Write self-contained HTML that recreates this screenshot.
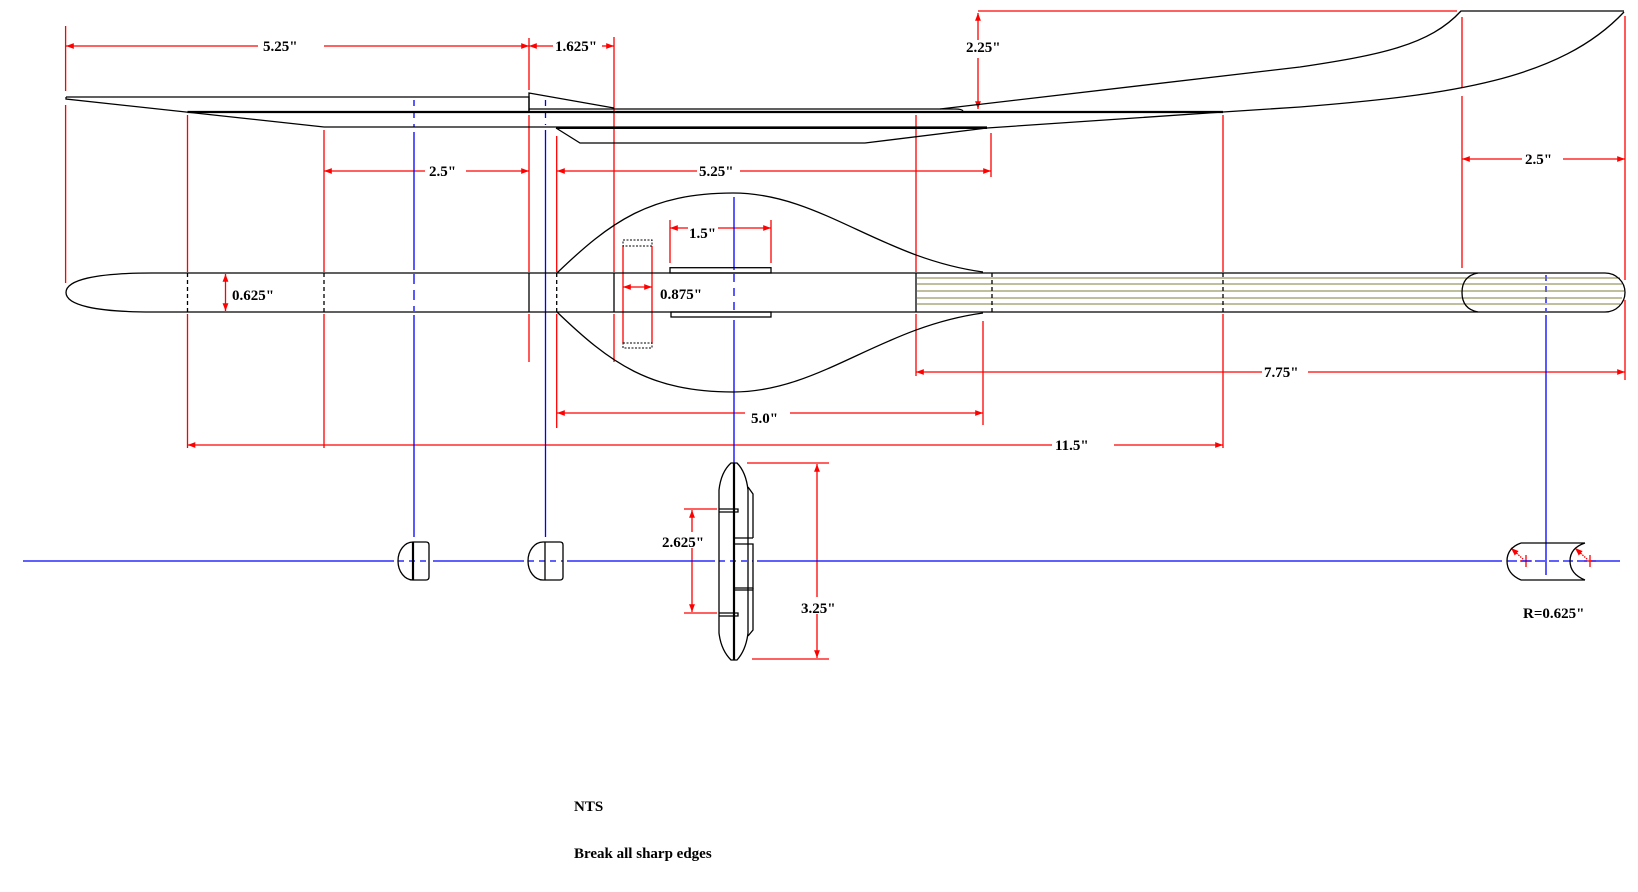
<!DOCTYPE html>
<html><head><meta charset="utf-8"><style>html,body{margin:0;padding:0;background:#fff}svg{display:block}</style></head><body>
<svg width="1638" height="892" viewBox="0 0 1638 892" xmlns="http://www.w3.org/2000/svg" font-family="Liberation Serif, serif" font-weight="bold" font-size="15">
<defs>
<marker id="a" viewBox="0 0 8 8" refX="8" refY="4" markerWidth="6" markerHeight="6" orient="auto-start-reverse"><path d="M0,1 L8,4 L0,7 z" fill="#f00"/></marker>
</defs>
<g stroke="#f00" stroke-width="1.3" fill="none">
<line x1="65.6" y1="26" x2="65.6" y2="91"/><line x1="65.6" y1="105" x2="65.6" y2="283"/>
<line x1="529" y1="38" x2="529" y2="90"/><line x1="529" y1="115" x2="529" y2="272"/><line x1="529" y1="314" x2="529" y2="362"/>
<line x1="614" y1="37" x2="614" y2="272"/><line x1="614" y1="314" x2="614" y2="362"/>
<line x1="187.5" y1="115" x2="187.5" y2="272"/><line x1="187.5" y1="314" x2="187.5" y2="448"/>
<line x1="324" y1="130" x2="324" y2="272"/><line x1="324" y1="314" x2="324" y2="448"/>
<line x1="556.7" y1="136" x2="556.7" y2="272"/><line x1="556.7" y1="314" x2="556.7" y2="428"/>
<line x1="991" y1="133" x2="991" y2="177"/>
<line x1="983" y1="321" x2="983" y2="425"/>
<line x1="916" y1="115" x2="916" y2="272"/><line x1="916" y1="314" x2="916" y2="376"/>
<line x1="1223" y1="115" x2="1223" y2="272"/><line x1="1223" y1="314" x2="1223" y2="448"/>
<line x1="1462" y1="17" x2="1462" y2="88"/><line x1="1462" y1="96" x2="1462" y2="268"/>
<line x1="1625" y1="16" x2="1625" y2="280"/><line x1="1625" y1="300" x2="1625" y2="380"/>
<line x1="978" y1="11" x2="1457" y2="11"/>
<line x1="623" y1="246" x2="623" y2="343"/><line x1="652" y1="246" x2="652" y2="343"/>
<line x1="670" y1="220" x2="670" y2="263"/><line x1="771" y1="220" x2="771" y2="263"/>
<line x1="66" y1="46" x2="258" y2="46" marker-start="url(#a)"/><line x1="324" y1="46" x2="529" y2="46" marker-end="url(#a)"/>
<line x1="529" y1="46" x2="553" y2="46" marker-start="url(#a)"/><line x1="602" y1="46" x2="614" y2="46" marker-end="url(#a)"/>
<line x1="324" y1="171" x2="425" y2="171" marker-start="url(#a)"/><line x1="466" y1="171" x2="529" y2="171" marker-end="url(#a)"/>
<line x1="557" y1="171" x2="697" y2="171" marker-start="url(#a)"/><line x1="740" y1="171" x2="991" y2="171" marker-end="url(#a)"/>
<line x1="1462" y1="159" x2="1522" y2="159" marker-start="url(#a)"/><line x1="1563" y1="159" x2="1625" y2="159" marker-end="url(#a)"/>
<line x1="978" y1="13" x2="978" y2="40" marker-start="url(#a)"/><line x1="978" y1="58" x2="978" y2="109" marker-end="url(#a)"/>
<line x1="225.5" y1="274" x2="225.5" y2="311" marker-start="url(#a)" marker-end="url(#a)"/>
<line x1="623" y1="287" x2="652" y2="287" marker-start="url(#a)" marker-end="url(#a)"/>
<line x1="670" y1="228" x2="688" y2="228" marker-start="url(#a)"/><line x1="718" y1="228" x2="771" y2="228" marker-end="url(#a)"/>
<line x1="557" y1="413" x2="745" y2="413" marker-start="url(#a)"/><line x1="790" y1="413" x2="983" y2="413" marker-end="url(#a)"/>
<line x1="916" y1="372" x2="1262" y2="372" marker-start="url(#a)"/><line x1="1308" y1="372" x2="1625" y2="372" marker-end="url(#a)"/>
<line x1="187.5" y1="445" x2="1052" y2="445" marker-start="url(#a)"/><line x1="1114" y1="445" x2="1223" y2="445" marker-end="url(#a)"/>
<line x1="684" y1="509" x2="717" y2="509"/><line x1="684" y1="613" x2="717" y2="613"/>
<line x1="692" y1="510" x2="692" y2="532" marker-start="url(#a)"/><line x1="692" y1="548" x2="692" y2="612" marker-end="url(#a)"/>
<line x1="747" y1="463" x2="829" y2="463"/><line x1="752" y1="659" x2="829" y2="659"/>
<line x1="817" y1="464" x2="817" y2="597" marker-start="url(#a)"/><line x1="817" y1="614" x2="817" y2="658" marker-end="url(#a)"/>
<line x1="1511" y1="548" x2="1524" y2="560" stroke-dasharray="1.5,1" marker-start="url(#a)"/>
<line x1="1575" y1="548" x2="1588" y2="560" stroke-dasharray="1.5,1" marker-start="url(#a)"/>
<line x1="1520" y1="561" x2="1532" y2="561"/><line x1="1526" y1="555" x2="1526" y2="567"/>
<line x1="1584" y1="561" x2="1596" y2="561"/><line x1="1590" y1="555" x2="1590" y2="567"/>
</g>
<g stroke="#00f" stroke-width="1.3" fill="none">
<line x1="414" y1="100" x2="414" y2="127" stroke-dasharray="6,6"/><line x1="414" y1="132" x2="414" y2="270"/><line x1="414" y1="274" x2="414" y2="311" stroke-dasharray="10,6"/><line x1="414" y1="315" x2="414" y2="537"/>
<line x1="545.5" y1="100" x2="545.5" y2="125" stroke-dasharray="6,6"/><line x1="545.5" y1="130" x2="545.5" y2="537"/>
<line x1="734" y1="197" x2="734" y2="270"/><line x1="734" y1="274" x2="734" y2="311" stroke-dasharray="8,6"/><line x1="734" y1="320" x2="734" y2="463"/>
<line x1="1546" y1="275" x2="1546" y2="311" stroke-dasharray="6,5"/><line x1="1546" y1="315" x2="1546" y2="575"/>
<line x1="23" y1="561" x2="394" y2="561"/><line x1="433" y1="561" x2="524" y2="561"/><line x1="567" y1="561" x2="715" y2="561"/><line x1="757" y1="561" x2="1502" y2="561"/><line x1="1600" y1="561" x2="1620" y2="561"/>
<line x1="398" y1="561" x2="429" y2="561" stroke-dasharray="6,5"/><line x1="528" y1="561" x2="563" y2="561" stroke-dasharray="6,5"/><line x1="719" y1="561" x2="753" y2="561" stroke-dasharray="6,5"/><line x1="1507" y1="561" x2="1600" y2="561" stroke-dasharray="10,4"/>
</g>
<g stroke="#7f7f3c" stroke-width="1">
<line x1="917" y1="278" x2="1620" y2="278"/><line x1="917" y1="284" x2="1622" y2="284"/><line x1="917" y1="291" x2="1624" y2="291"/><line x1="917" y1="298" x2="1622" y2="298"/><line x1="917" y1="304" x2="1620" y2="304"/>
</g>
<g stroke="#000" stroke-width="1.3" fill="none">
<path d="M66,97 L529,97 L529,112 M66,97 L66,99 L324,127"/>
<line x1="187.5" y1="112" x2="1223" y2="112" stroke-width="2.2"/>
<path d="M529,112 L529,93 L614,108"/>
<path d="M529,109 L955,109 Q962,109 963,111"/>
<line x1="324" y1="127" x2="987" y2="127"/>
<line x1="556" y1="128" x2="987" y2="128" stroke-width="2"/>
<path d="M556,128 L580,143 L865,143 L987,128 L1223,112 L1300,107 C1450,95 1560,80 1624,12"/>
<path d="M940,109 L1300,67 C1380,55 1430,45 1461,11 L1624,11"/>
<path d="M152,273 L1605,273 A20,19.5 0 0 1 1605,312 L152,312 C95,312 66,305 66,292.5 C66,280 95,273 152,273 Z"/>
<path d="M1478,273 Q1462,276 1462,292.5 Q1462,309 1478,312"/>
<line x1="529" y1="273" x2="529" y2="312"/><line x1="614" y1="273" x2="614" y2="312"/><line x1="916" y1="273" x2="916" y2="312"/>
<g stroke-dasharray="4,3"><line x1="187.5" y1="273" x2="187.5" y2="312"/><line x1="324" y1="273" x2="324" y2="312"/><line x1="556.7" y1="273" x2="556.7" y2="312"/><line x1="992" y1="273" x2="992" y2="312"/><line x1="1223" y1="273" x2="1223" y2="312"/></g>
<path d="M557,273 C610,222 650,193 733,193 C820,193 880,258 983,272"/>
<path d="M557,312 C610,363 650,392 733,392 C820,392 880,327 983,313"/>
<rect x="670" y="267.7" width="101" height="5.3"/><rect x="671" y="312" width="100" height="5"/>
<g stroke-dasharray="2,1.5" stroke-width="1"><rect x="623" y="240" width="29" height="6"/><rect x="623" y="343" width="29" height="5"/></g>
<path d="M413,542 A15,19 0 0 0 413,580 M413,542 L426,542 Q429,542 429,545 L429,577 Q429,580 426,580 L413,580"/><line x1="413" y1="542" x2="413" y2="580" stroke-width="2.2"/>
<path d="M543,542 A15,19 0 0 0 543,580 M543,542 L560,542 Q563,542 563,545 L563,577 Q563,580 560,580 L543,580 M545,542 L545,580"/>
<path d="M731,463 L737,463 Q746,472 748,490 L748,633 Q746,650 737,660 L731,660 Q721,650 719,633 L719,490 Q721,472 731,463 Z"/>
<path d="M748,487 L753,494 L753,538 M753,588 L753,630 L748,636"/>
<path d="M719,509 L738,509 L738,512 L719,512 M719,613 L738,613 L738,616 L719,616"/>
<path d="M734,538 L753,538 M734,544 L753,544 L753,588 L734,588 M734,590 L753,590"/>
<line x1="734" y1="463" x2="734" y2="660" stroke-width="2.2"/>
<path d="M1521,543 L1585,543 M1521,580 L1585,580 M1521,543 Q1507,548 1507,561 Q1507,574 1521,580 M1585,543 Q1570,548 1570,561 Q1570,574 1585,580"/>
</g>
<g fill="#000">
<text x="263" y="51">5.25"</text><text x="555" y="51">1.625"</text>
<text x="429" y="176">2.5"</text><text x="699" y="176">5.25"</text>
<text x="966" y="52">2.25"</text><text x="1525" y="164">2.5"</text>
<text x="232" y="300">0.625"</text><text x="660" y="299">0.875"</text>
<text x="689" y="238">1.5"</text><text x="751" y="423">5.0"</text>
<text x="1264" y="377">7.75"</text><text x="1055" y="450">11.5"</text>
<text x="662" y="547">2.625"</text><text x="801" y="613">3.25"</text>
<text x="1523" y="618">R=0.625"</text>
<text x="574" y="811">NTS</text><text x="574" y="858">Break all sharp edges</text>
</g>
</svg>
</body></html>
